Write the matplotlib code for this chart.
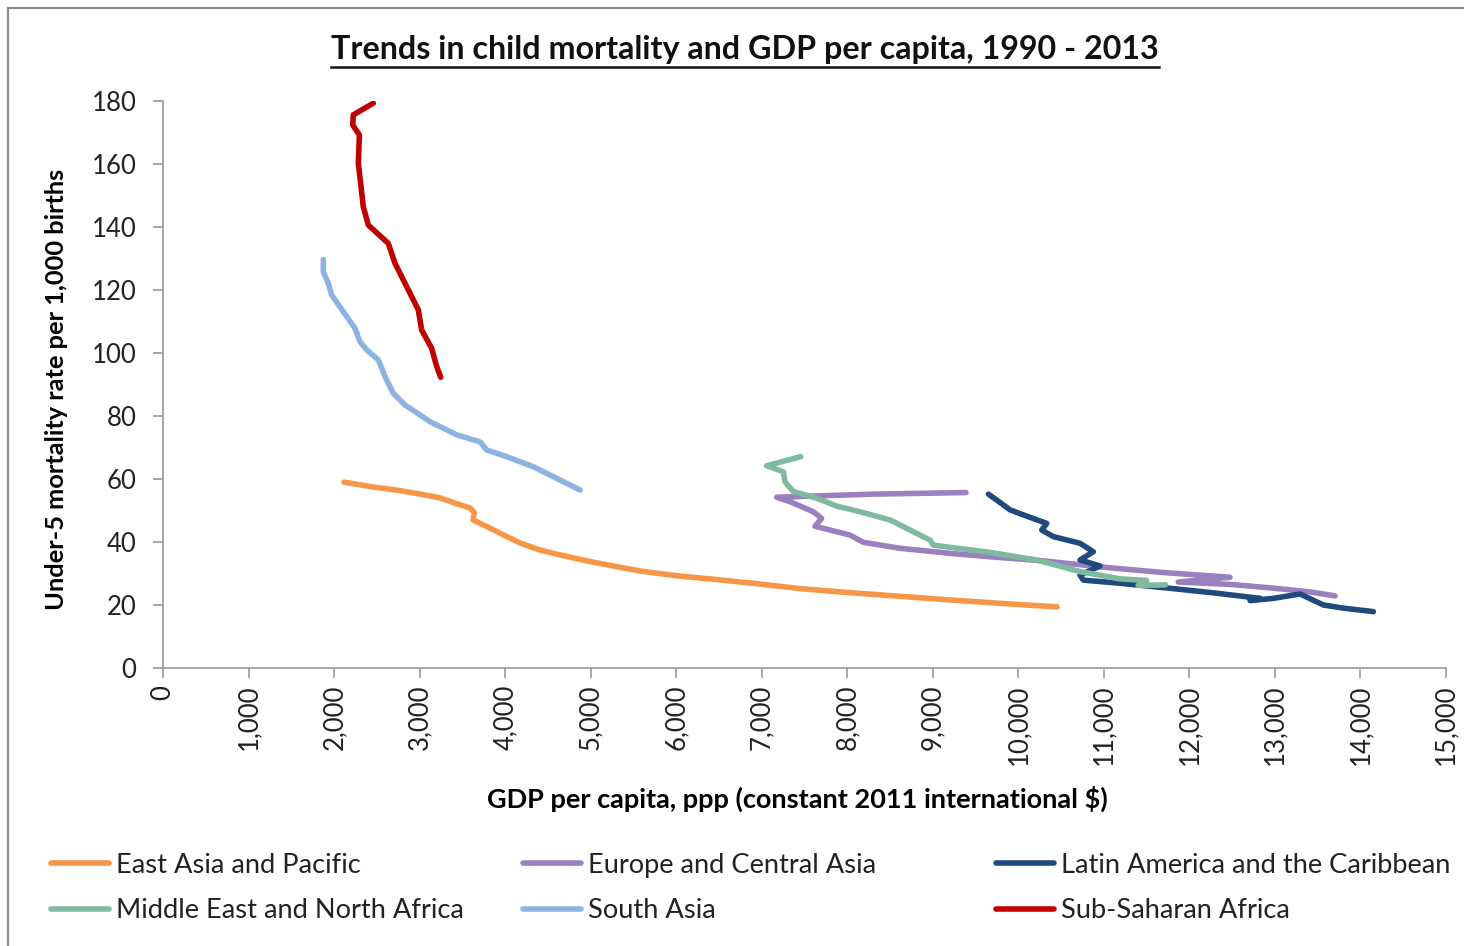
import matplotlib
matplotlib.use("Agg")
import matplotlib.pyplot as plt
from matplotlib.ticker import FuncFormatter
from matplotlib.lines import Line2D
from matplotlib.patches import Rectangle

# GDP per capita (x) and under-5 mortality (y), 1990 -> 2013
eap_gdp = [2116, 2450, 2771, 3050, 3239, 3450, 3590, 3640, 3625, 3823, 4000, 4174, 4400,
           4642, 4992, 5300, 5577, 6000, 6500, 7000, 7448, 8032, 8600, 9201, 9800, 10452]
eap_u5 = [59.0, 57.5, 56.3, 55.0, 54.0, 52.0, 50.8, 49.3, 47.0, 44.4, 42.0, 39.7, 37.5,
          35.9, 33.8, 32.2, 30.8, 29.3, 28.0, 26.6, 25.2, 23.9, 22.8, 21.6, 20.5, 19.4]

eca_gdp = [9388, 8300, 7175, 7331, 7603, 7701, 7623, 8032, 8188, 8617, 9201, 9669, 10300,
           10994, 11700, 12475, 11870, 12500, 13000, 13400, 13703]
eca_u5 = [55.7, 55.2, 54.2, 52.8, 49.6, 47.5, 45.0, 42.2, 39.9, 38.0, 36.4, 35.3, 34.0,
          32.0, 30.3, 28.8, 27.3, 26.5, 25.3, 24.2, 22.9]

lac_gdp = [9650, 9748, 9903, 10059, 10332, 10274, 10410, 10721, 10877, 10721, 10955, 10721,
           10760, 11189, 11774, 12300, 12826, 12709, 12982, 13294, 13567, 13801, 14151]
lac_u5 = [55.2, 53.3, 50.2, 48.6, 45.9, 43.8, 41.7, 39.6, 36.9, 34.3, 32.4, 29.5,
          27.9, 26.9, 25.3, 23.8, 22.1, 21.4, 22.1, 23.5, 20.0, 19.0, 17.9]

mena_gdp = [7456, 7058, 7253, 7272, 7370, 7643, 7877, 8149, 8500, 8734, 8968, 9006, 9669,
            10215, 10721, 11189, 11500, 11400, 11720]
mena_u5 = [67.1, 64.2, 62.3, 59.1, 56.0, 53.9, 51.4, 49.6, 47.0, 43.8, 40.6, 39.0, 36.7,
           34.3, 30.6, 28.3, 27.8, 26.2, 26.4]

sa_gdp = [1874, 1874, 1933, 1972, 2245, 2303, 2381, 2518, 2596, 2693, 2829, 3122, 3434,
          3706, 3785, 4018, 4330, 4603, 4876]
sa_u5 = [129.7, 125.8, 122.1, 118.4, 107.8, 103.6, 101.0, 97.8, 92.5, 87.2, 83.5, 78.2, 74.0,
         71.8, 69.2, 67.1, 63.9, 60.2, 56.5]

ssa_gdp = [2459, 2225, 2218, 2296, 2284, 2342, 2401, 2634, 2712, 2985, 3024, 3141, 3200, 3247]
ssa_u5 = [179.3, 175.6, 172.4, 169.2, 160.2, 146.4, 140.6, 134.8, 128.5, 113.7, 107.3, 101.5,
          95.7, 92.3]

regions = ["East Asia and Pacific", "Europe and Central Asia", "Latin America and the Caribbean",
           "Middle East and North Africa", "South Asia", "Sub-Saharan Africa"]
colors = ["#F79646", "#9A80BE", "#1F4A7E", "#7FB9A0", "#8DB3E2", "#C00000"]
series = [(eap_gdp, eap_u5), (eca_gdp, eca_u5), (lac_gdp, lac_u5),
          (mena_gdp, mena_u5), (sa_gdp, sa_u5), (ssa_gdp, ssa_u5)]

plt.rcParams['font.family'] = ['Lato', 'DejaVu Sans']

W, H = 1464, 946
fig = plt.figure(figsize=(W / 100, H / 100), dpi=100)
fig.patches.append(Rectangle((8 / W, -0.05), 1.2, 1 - 8 / H + 0.05, transform=fig.transFigure,
                             fill=False, edgecolor="#8c8c8c", linewidth=1.6))

ax = fig.add_axes([163 / W, 1 - 668 / H, (1446 - 163) / W, (668 - 101) / H])

handles = []
for (gx, uy), name, c in zip(series, regions, colors):
    h, = ax.plot(gx, uy, color=c, linewidth=4.0, solid_capstyle="round",
                 solid_joinstyle="round", label=name)
    handles.append(h)

ax.set_xlim(0, 15000)
ax.set_ylim(0, 180)
ax.set_xticks(range(0, 15001, 1000))
ax.set_yticks(range(0, 181, 20))
ax.xaxis.set_major_formatter(FuncFormatter(lambda v, p: f"{int(v):,}"))
for s in ["top", "right"]:
    ax.spines[s].set_visible(False)
for s in ["left", "bottom"]:
    ax.spines[s].set_color("#9a9a9a")
    ax.spines[s].set_linewidth(1.2)
ax.tick_params(axis="both", colors="#9a9a9a", length=7, width=1.2, labelcolor="#222222",
               labelsize=18.5)
ax.tick_params(axis="x", labelrotation=90, pad=5)
ax.tick_params(axis="y", pad=12)

ax.set_xlabel("GDP per capita, ppp (constant 2011 international $)", fontsize=19.5,
              fontweight="bold")
ax.xaxis.set_label_coords((797 - 163) / 1283, (668 - 786) / 567)
ax.set_ylabel("Under-5 mortality rate per 1,000 births", fontsize=18.3, fontweight="bold",
              va="center")
ax.yaxis.set_label_coords((57 - 163) / 1283, (668 - 389) / 567)

title = fig.text(745 / W, 1 - 50 / H, "Trends in child mortality and GDP per capita, 1990 - 2013",
                 ha="center", va="center", fontsize=23.2, fontweight="bold", color="#111111")

# legend: three columns with even spacing, like the spreadsheet original
col_x = [51, 523, 996]
for i, x0 in enumerate(col_x):
    leg = fig.legend(handles=[handles[i], handles[i + 3]], loc="upper left",
                     bbox_to_anchor=(x0 / W, 1 - 853 / H), frameon=False, fontsize=19.6,
                     handlelength=2.13, handletextpad=0.25, labelspacing=0.74,
                     borderaxespad=0, borderpad=0)
    for t in leg.get_texts():
        t.set_color("#222222")

fig.canvas.draw()
bb = title.get_window_extent()
ly = bb.y0 - 3
fig.add_artist(Line2D([bb.x0 / W, bb.x1 / W], [ly / H, ly / H], transform=fig.transFigure,
                      color="#111111", linewidth=1.8))

fig.savefig("out.png", dpi=100)
